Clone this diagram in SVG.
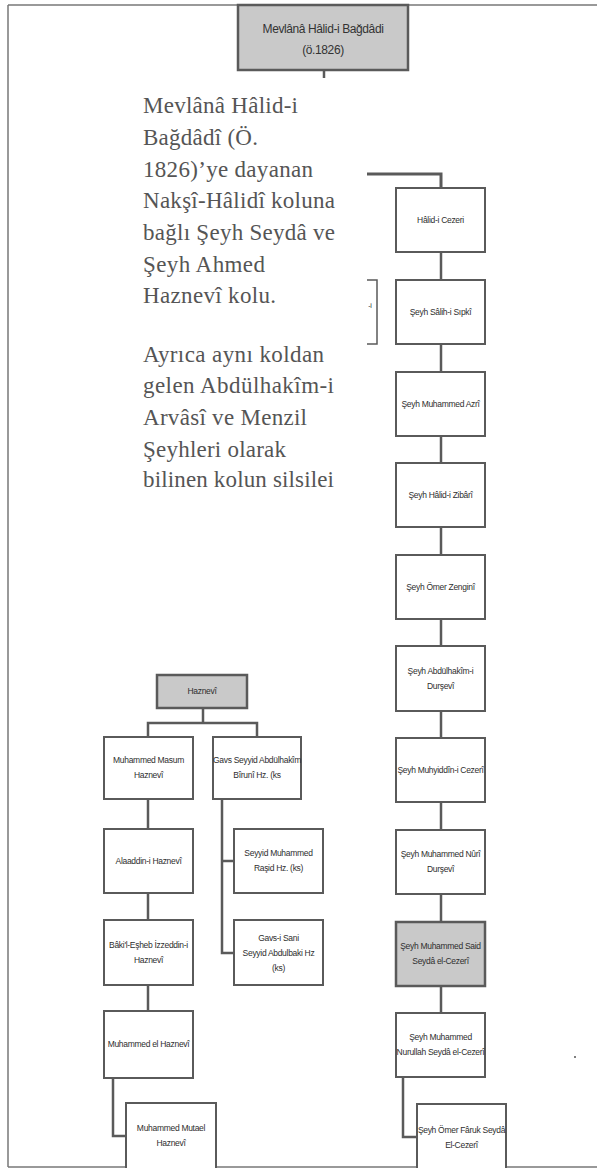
<svg xmlns="http://www.w3.org/2000/svg" width="597" height="1168" viewBox="0 0 597 1168">
<style>
.box{fill:#fff;stroke:#5a5a5a;stroke-width:2}
.gray{fill:#c9c9c9;stroke:#5a5a5a;stroke-width:2.5}
.bt{font-family:"Liberation Sans",Arial,sans-serif;font-size:8.5px;fill:#2e2e2e;text-anchor:middle;letter-spacing:-0.3px}
.tt{font-family:"Liberation Sans",Arial,sans-serif;font-size:12px;fill:#333;text-anchor:middle;letter-spacing:-0.4px}
.para{font-family:"Liberation Serif","Times New Roman",serif;font-size:23px;fill:#555}
.ln{fill:none;stroke:#5a5a5a;stroke-width:2.5}
.frame{fill:none;stroke:#777;stroke-width:1.5}
</style>
<rect width="597" height="1168" fill="#fff"/>
<g id="frame">
<line class="frame" x1="8" y1="5" x2="597" y2="5"/>
<line class="frame" x1="8" y1="5" x2="8" y2="1167"/>
<line class="frame" x1="8" y1="1167" x2="597" y2="1167"/>
</g>
<g id="connectors">
<line class="ln" x1="324" y1="70" x2="324" y2="78"/>
<polyline class="ln" points="367,174 441,174 441,188" style="stroke-width:3"/>
<line class="ln" x1="441" y1="252" x2="441" y2="280"/>
<line class="ln" x1="441" y1="344" x2="441" y2="372"/>
<line class="ln" x1="441" y1="436" x2="441" y2="463"/>
<line class="ln" x1="441" y1="527" x2="441" y2="555"/>
<line class="ln" x1="441" y1="619" x2="441" y2="646"/>
<line class="ln" x1="441" y1="711" x2="441" y2="738"/>
<line class="ln" x1="441" y1="802" x2="441" y2="830"/>
<line class="ln" x1="441" y1="894" x2="441" y2="922"/>
<line class="ln" x1="441" y1="986" x2="441" y2="1013"/>
<polyline class="ln" points="403,1077 403,1137 417,1137"/>
<polyline class="ln" points="367,280 377,280 377,344 367,344" style="stroke-width:1.5"/>
<line class="ln" x1="203" y1="708" x2="203" y2="723"/>
<polyline class="ln" points="148,737 148,723 257,723 257,737"/>
<line class="ln" x1="148" y1="799" x2="148" y2="829"/>
<line class="ln" x1="148" y1="893" x2="148" y2="920"/>
<line class="ln" x1="148" y1="985" x2="148" y2="1011"/>
<polyline class="ln" points="113,1078 113,1136 126,1136"/>
<polyline class="ln" points="222,799 222,953 234,953"/>
<line class="ln" x1="222" y1="861" x2="234" y2="861"/>
</g>
<g id="n-top">
<rect class="gray" x="238" y="5" width="170" height="65"/>
<text class="tt" x="323" y="33">Mevlânâ Hâlid-i Bağdâdi</text>
<text class="tt" x="323" y="54">(ö.1826)</text>
</g>
<g id="intro-text">
<text class="para" x="143" y="113" textLength="155" lengthAdjust="spacing">Mevlânâ Hâlid-i</text>
<text class="para" x="143" y="145" textLength="115" lengthAdjust="spacing">Bağdâdî (Ö.</text>
<text class="para" x="143" y="177" textLength="170" lengthAdjust="spacing">1826)’ye dayanan</text>
<text class="para" x="143" y="208" textLength="192" lengthAdjust="spacing">Nakşî-Hâlidî koluna</text>
<text class="para" x="143" y="240" textLength="192" lengthAdjust="spacing">bağlı Şeyh Seydâ ve</text>
<text class="para" x="143" y="272" textLength="122" lengthAdjust="spacing">Şeyh Ahmed</text>
<text class="para" x="143" y="303" textLength="133" lengthAdjust="spacing">Haznevî kolu.</text>
<text class="para" x="143" y="362" textLength="181" lengthAdjust="spacing">Ayrıca aynı koldan</text>
<text class="para" x="143" y="393" textLength="191" lengthAdjust="spacing">gelen Abdülhakîm-i</text>
<text class="para" x="143" y="425" textLength="164" lengthAdjust="spacing">Arvâsî ve Menzil</text>
<text class="para" x="143" y="457" textLength="143" lengthAdjust="spacing">Şeyhleri olarak</text>
<text class="para" x="143" y="487" textLength="191" lengthAdjust="spacing">bilinen kolun silsilei</text>
</g>
<g id="bracket-label">
<text class="bt" x="370" y="308" style="font-size:7px">-i</text>
</g>
<g id="r1"><rect class="box" x="396" y="188" width="89" height="64"/><text class="bt" x="440.5" y="223">Hâlid-i Cezeri</text></g>
<g id="r2"><rect class="box" x="396" y="280" width="89" height="64"/><text class="bt" x="440.5" y="315">Şeyh Sâlih-i Sıpkî</text></g>
<g id="r3"><rect class="box" x="396" y="372" width="89" height="64"/><text class="bt" x="440.5" y="407">Şeyh Muhammed Azrî</text></g>
<g id="r4"><rect class="box" x="396" y="463" width="89" height="64"/><text class="bt" x="440.5" y="498">Şeyh Hâlid-i Zibârî</text></g>
<g id="r5"><rect class="box" x="396" y="555" width="89" height="64"/><text class="bt" x="440.5" y="590">Şeyh Ömer Zenginî</text></g>
<g id="r6"><rect class="box" x="396" y="646" width="89" height="65"/><text class="bt" x="440.5" y="674">Şeyh Abdülhakîm-i</text><text class="bt" x="440.5" y="689">Durşevî</text></g>
<g id="r7"><rect class="box" x="396" y="738" width="89" height="64"/><text class="bt" x="440.5" y="773">Şeyh Muhyiddîn-i Cezerî</text></g>
<g id="r8"><rect class="box" x="396" y="830" width="89" height="64"/><text class="bt" x="440.5" y="857">Şeyh Muhammed Nûrî</text><text class="bt" x="440.5" y="872">Durşevî</text></g>
<g id="r9"><rect class="gray" x="396" y="922" width="89" height="64"/><text class="bt" x="440.5" y="949">Şeyh Muhammed Said</text><text class="bt" x="440.5" y="964">Seydâ el-Cezerî</text></g>
<g id="r10"><rect class="box" x="396" y="1013" width="89" height="64"/><text class="bt" x="440.5" y="1040">Şeyh Muhammed</text><text class="bt" x="440.5" y="1055">Nurullah Seydâ el-Cezerî</text></g>
<g id="r11"><rect class="box" x="417" y="1104" width="89" height="66"/><text class="bt" x="461.5" y="1133">Şeyh Ömer Fâruk Seydâ</text><text class="bt" x="461.5" y="1148">El-Cezerî</text></g>
<g id="dot"><circle cx="575" cy="1057" r="1" fill="#555"/></g>
<g id="l0"><rect class="gray" x="157" y="675" width="90" height="33"/><text class="bt" x="202" y="694">Haznevî</text></g>
<g id="l1"><rect class="box" x="104" y="737" width="89" height="62"/><text class="bt" x="148.5" y="763">Muhammed Masum</text><text class="bt" x="148.5" y="778">Haznevî</text></g>
<g id="l1b"><rect class="box" x="213" y="737" width="88" height="62"/><text class="bt" x="257" y="763">Gavs Seyyid Abdülhakîm</text><text class="bt" x="257" y="778">Bîrunî Hz. (ks</text></g>
<g id="l2"><rect class="box" x="104" y="829" width="89" height="64"/><text class="bt" x="148.5" y="864">Alaaddin-i Haznevî</text></g>
<g id="l3"><rect class="box" x="104" y="920" width="89" height="65"/><text class="bt" x="148.5" y="948">Bâki'l-Eşheb İzzeddin-i</text><text class="bt" x="148.5" y="963">Haznevî</text></g>
<g id="l4"><rect class="box" x="104" y="1011" width="89" height="67"/><text class="bt" x="148.5" y="1047">Muhammed el Haznevî</text></g>
<g id="l5"><rect class="box" x="126" y="1103" width="90" height="66"/><text class="bt" x="171" y="1131">Muhammed Mutael</text><text class="bt" x="171" y="1146">Haznevî</text></g>
<g id="l2b"><rect class="box" x="234" y="829" width="89" height="64"/><text class="bt" x="278.5" y="856">Seyyid Muhammed</text><text class="bt" x="278.5" y="871">Raşid Hz. (ks)</text></g>
<g id="l3b"><rect class="box" x="234" y="920" width="89" height="65"/><text class="bt" x="278.5" y="941">Gavs-i Sani</text><text class="bt" x="278.5" y="956">Seyyid Abdulbaki Hz</text><text class="bt" x="278.5" y="971">(ks)</text></g>
</svg>
